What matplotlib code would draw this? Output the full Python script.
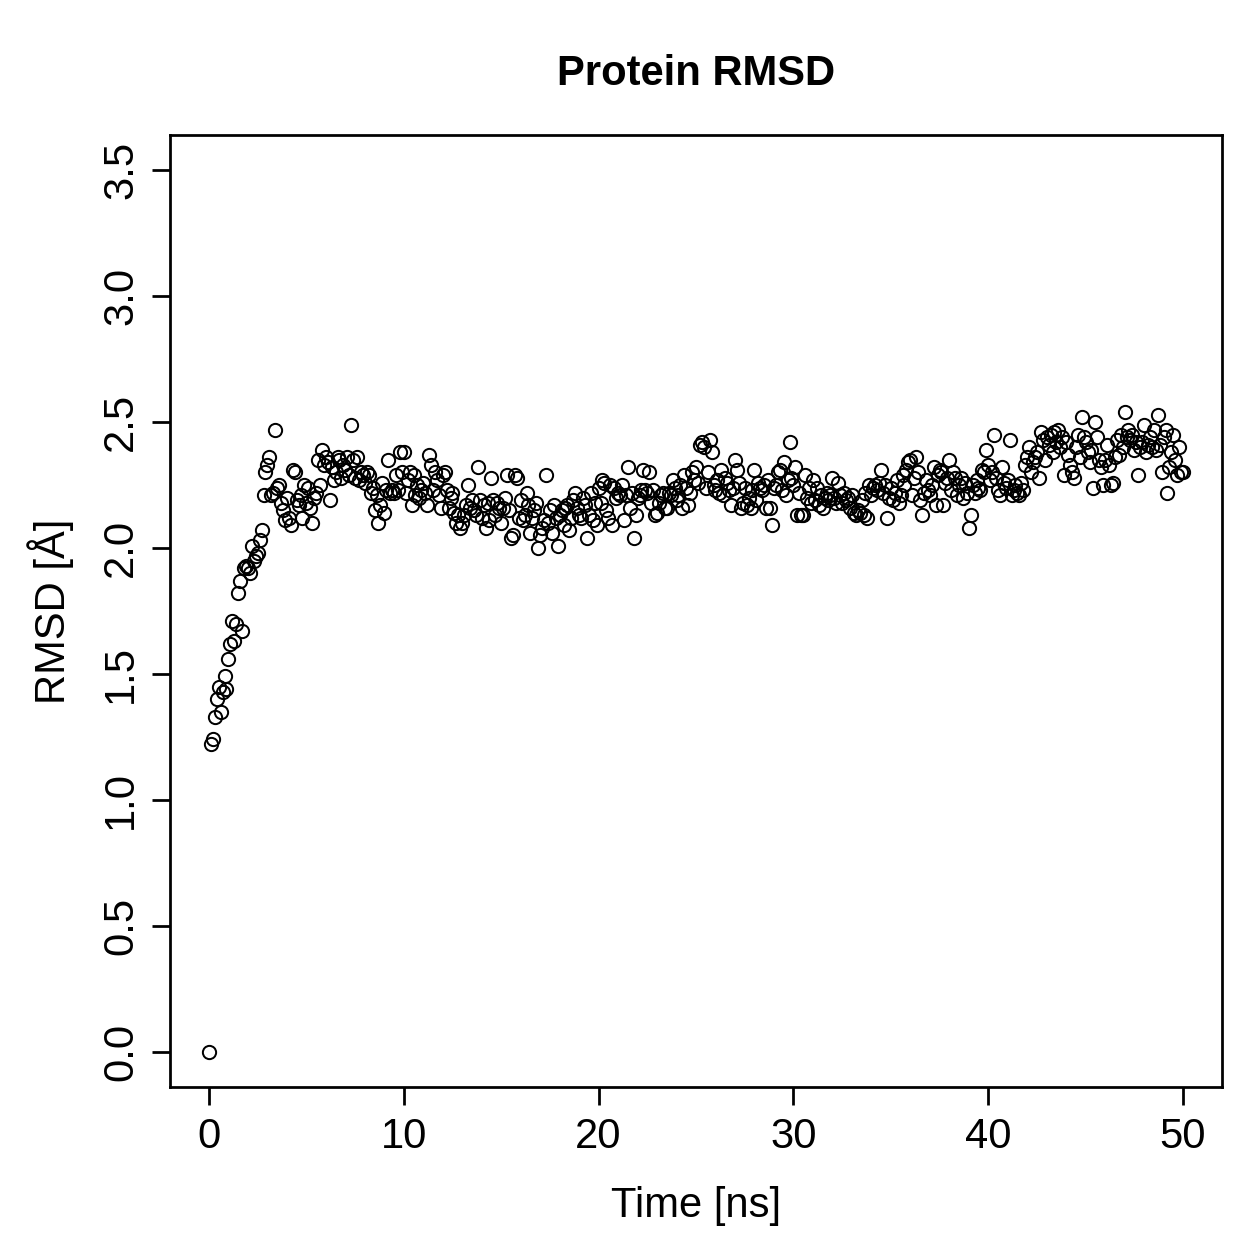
import numpy as np
import matplotlib
matplotlib.use("Agg")
import matplotlib.pyplot as plt

plt.rcParams['font.family'] = ['Liberation Sans', 'DejaVu Sans']

# Time in ns (0.1 ns sampling), RMSD in Angstrom
time_ns = [round(i * 0.1, 1) for i in range(501)]

rmsd = [
    # 0 ns
    0.00, 1.22, 1.24, 1.33, 1.40, 1.45, 1.35, 1.43, 1.49, 1.44,
    1.56, 1.62, 1.71, 1.63, 1.70, 1.82, 1.87, 1.67, 1.92, 1.93,
    1.92, 1.90, 2.01, 1.95, 1.97, 1.98, 2.03, 2.07, 2.21, 2.30,
    2.33, 2.36, 2.21, 2.22, 2.47, 2.24, 2.25, 2.18, 2.15, 2.11,
    2.20, 2.12, 2.09, 2.31, 2.30, 2.19, 2.17, 2.21, 2.12, 2.25,
    # 5 ns
    2.18, 2.24, 2.16, 2.10, 2.20, 2.22, 2.35, 2.25, 2.39, 2.33,
    2.36, 2.34, 2.19, 2.32, 2.27, 2.30, 2.36, 2.35, 2.28, 2.33,
    2.31, 2.36, 2.29, 2.49, 2.35, 2.28, 2.36, 2.27, 2.30, 2.29,
    2.26, 2.30, 2.29, 2.22, 2.24, 2.15, 2.21, 2.10, 2.17, 2.26,
    2.14, 2.23, 2.35, 2.22, 2.23, 2.22, 2.29, 2.23, 2.38, 2.30,
    # 10 ns
    2.38, 2.22, 2.27, 2.30, 2.17, 2.29, 2.21, 2.25, 2.20, 2.23,
    2.26, 2.22, 2.17, 2.37, 2.33, 2.23, 2.30, 2.27, 2.21, 2.16,
    2.29, 2.30, 2.23, 2.16, 2.20, 2.22, 2.14, 2.10, 2.13, 2.08,
    2.10, 2.13, 2.17, 2.25, 2.16, 2.19, 2.15, 2.13, 2.32, 2.19,
    2.12, 2.17, 2.08, 2.18, 2.11, 2.28, 2.19, 2.13, 2.18, 2.16,
    # 15 ns
    2.10, 2.16, 2.20, 2.29, 2.15, 2.04, 2.05, 2.29, 2.28, 2.12,
    2.19, 2.11, 2.13, 2.22, 2.17, 2.06, 2.12, 2.15, 2.18, 2.00,
    2.05, 2.08, 2.11, 2.29, 2.10, 2.15, 2.06, 2.17, 2.12, 2.01,
    2.13, 2.15, 2.09, 2.16, 2.17, 2.07, 2.12, 2.19, 2.22, 2.16,
    2.13, 2.12, 2.20, 2.17, 2.04, 2.13, 2.22, 2.11, 2.18, 2.09,
    # 20 ns
    2.24, 2.18, 2.27, 2.26, 2.15, 2.12, 2.25, 2.09, 2.24, 2.20,
    2.22, 2.21, 2.25, 2.11, 2.21, 2.32, 2.16, 2.22, 2.04, 2.13,
    2.20, 2.21, 2.23, 2.31, 2.23, 2.22, 2.30, 2.18, 2.23, 2.13,
    2.14, 2.18, 2.21, 2.22, 2.16, 2.16, 2.22, 2.21, 2.27, 2.24,
    2.19, 2.21, 2.25, 2.16, 2.29, 2.24, 2.17, 2.22, 2.30, 2.27,
    # 25 ns
    2.32, 2.26, 2.41, 2.42, 2.40, 2.24, 2.30, 2.43, 2.38, 2.25,
    2.23, 2.27, 2.22, 2.31, 2.21, 2.28, 2.26, 2.23, 2.17, 2.24,
    2.35, 2.31, 2.26, 2.16, 2.18, 2.24, 2.17, 2.20, 2.16, 2.23,
    2.31, 2.19, 2.26, 2.24, 2.23, 2.25, 2.16, 2.27, 2.16, 2.09,
    2.24, 2.25, 2.30, 2.31, 2.23, 2.34, 2.21, 2.27, 2.42, 2.28,
    # 30 ns
    2.25, 2.32, 2.13, 2.22, 2.13, 2.13, 2.29, 2.20, 2.24, 2.18,
    2.27, 2.19, 2.24, 2.17, 2.21, 2.16, 2.20, 2.22, 2.19, 2.21,
    2.28, 2.20, 2.18, 2.26, 2.21, 2.18, 2.22, 2.19, 2.20, 2.16,
    2.21, 2.14, 2.13, 2.15, 2.14, 2.19, 2.13, 2.22, 2.12, 2.25,
    2.21, 2.24, 2.25, 2.23, 2.26, 2.31, 2.22, 2.25, 2.12, 2.20,
    # 35 ns
    2.24, 2.19, 2.22, 2.27, 2.18, 2.21, 2.29, 2.25, 2.31, 2.34,
    2.35, 2.21, 2.28, 2.36, 2.30, 2.19, 2.13, 2.22, 2.27, 2.23,
    2.21, 2.25, 2.32, 2.17, 2.29, 2.31, 2.30, 2.17, 2.26, 2.28,
    2.35, 2.23, 2.30, 2.28, 2.21, 2.25, 2.28, 2.20, 2.26, 2.22,
    2.08, 2.13, 2.25, 2.22, 2.27, 2.24, 2.23, 2.31, 2.30, 2.39,
    # 40 ns
    2.33, 2.27, 2.30, 2.45, 2.28, 2.23, 2.21, 2.32, 2.26, 2.24,
    2.27, 2.43, 2.21, 2.23, 2.25, 2.22, 2.21, 2.26, 2.23, 2.33,
    2.36, 2.40, 2.30, 2.34, 2.36, 2.38, 2.28, 2.46, 2.43, 2.35,
    2.44, 2.41, 2.45, 2.38, 2.46, 2.42, 2.47, 2.40, 2.44, 2.29,
    2.42, 2.37, 2.33, 2.30, 2.28, 2.40, 2.45, 2.36, 2.52, 2.44,
    # 45 ns
    2.42, 2.38, 2.34, 2.39, 2.24, 2.50, 2.44, 2.35, 2.32, 2.25,
    2.35, 2.41, 2.33, 2.25, 2.26, 2.36, 2.43, 2.37, 2.45, 2.40,
    2.54, 2.44, 2.47, 2.43, 2.45, 2.39, 2.42, 2.29, 2.40, 2.42,
    2.49, 2.38, 2.41, 2.44, 2.40, 2.47, 2.39, 2.53, 2.41, 2.30,
    2.44, 2.47, 2.22, 2.32, 2.38, 2.45, 2.35, 2.29, 2.40, 2.30,
    # 50 ns
    2.30,
]

x_ticks = [0, 10, 20, 30, 40, 50]
y_ticks = [0.0, 0.5, 1.0, 1.5, 2.0, 2.5, 3.0, 3.5]
y_tick_labels = ["0.0", "0.5", "1.0", "1.5", "2.0", "2.5", "3.0", "3.5"]

DPI = 180
FS = 16.7
fig = plt.figure(figsize=(1259 / DPI, 1259 / DPI), dpi=DPI)
ax = fig.add_axes([170 / 1259, 1 - 1087 / 1259, (1222 - 170) / 1259, (1087 - 135) / 1259])

ax.plot(time_ns, rmsd, linestyle='none', marker='o', markersize=5.3,
        markerfacecolor='none', markeredgecolor='black', markeredgewidth=0.8)

ax.set_xlim(-2, 52)
ax.set_ylim(-0.14, 3.64)
ax.set_xticks(x_ticks)
ax.set_xticklabels([str(v) for v in x_ticks])
ax.set_yticks(y_ticks)
ax.set_yticklabels(y_tick_labels, rotation=90, va='center')

for s in ax.spines.values():
    s.set_linewidth(1.1)

ax.tick_params(axis='both', direction='out', length=7.2, width=1.1, labelsize=FS)
ax.tick_params(axis='x', pad=4.8)
ax.tick_params(axis='y', pad=4.4)

ax.set_xlabel("Time [ns]", fontsize=FS, labelpad=11.5)
ax.set_ylabel("RMSD [Å]", fontsize=FS, labelpad=11)
ax.set_title("Protein RMSD", fontsize=FS, fontweight='bold', pad=20)

fig.savefig("out.png", dpi=DPI)
